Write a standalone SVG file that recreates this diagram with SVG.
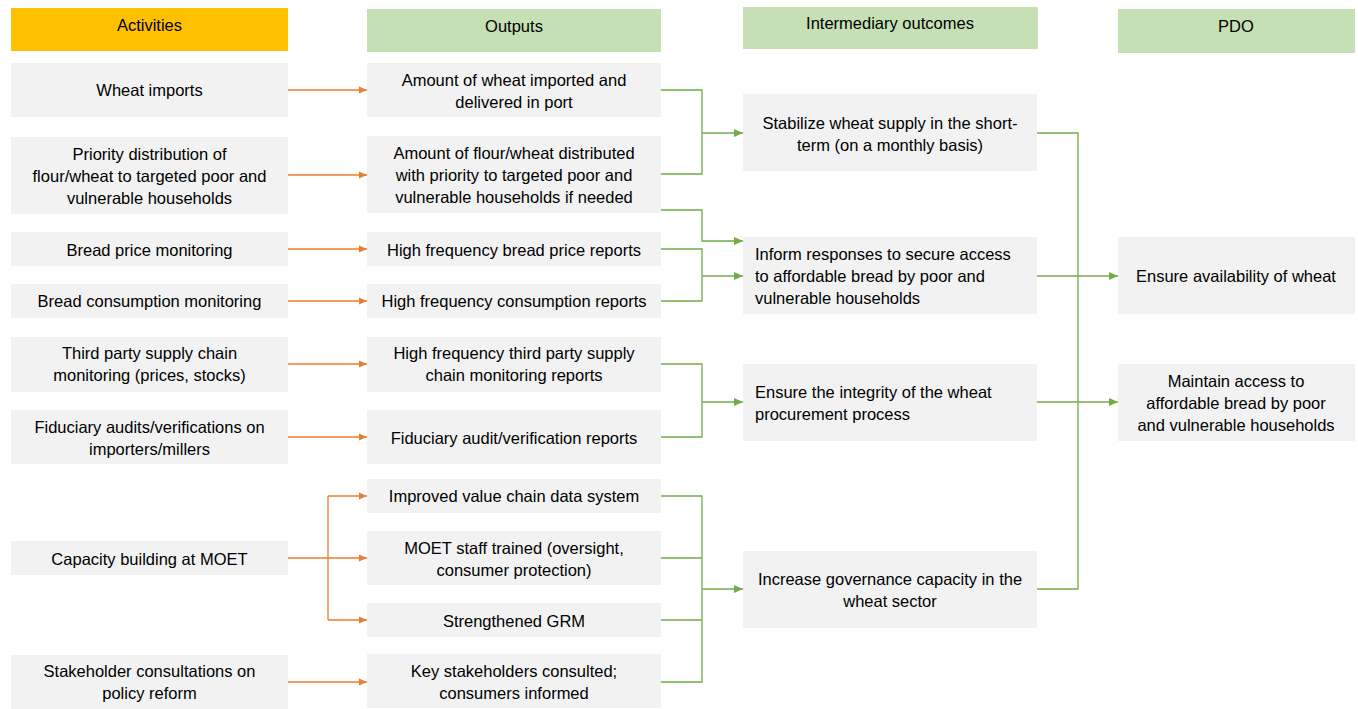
<svg xmlns="http://www.w3.org/2000/svg" width="1358" height="709" viewBox="0 0 1358 709">
<style>
.box{fill:#F2F2F2}
.hdrY{fill:#FFC000}
.hdrG{fill:#C5E0B4}
text{font-family:"Liberation Sans",Arial,sans-serif;font-size:16.5px;fill:#000}
.c{text-anchor:middle}
.or{fill:none;stroke:#ED7D31;stroke-width:1.3}
.gr{fill:none;stroke:#70AD47;stroke-width:1.3}
.ora{marker-end:url(#ao)}
.gra{marker-end:url(#ag)}
</style>
<defs>
<marker id="ao" markerUnits="userSpaceOnUse" markerWidth="8" markerHeight="8" refX="8" refY="4" orient="auto"><path d="M0,0.5 L8,4 L0,7.5 z" fill="#ED7D31"/></marker>
<marker id="ag" markerUnits="userSpaceOnUse" markerWidth="9" markerHeight="9" refX="9" refY="4.5" orient="auto"><path d="M0,0.5 L9,4.5 L0,8.5 z" fill="#70AD47"/></marker>
</defs>
<rect width="1358" height="709" fill="#fff"/>

<g id="connectors">
<path class="or ora" d="M288,90 H367"/>
<path class="or ora" d="M288,175 H367"/>
<path class="or ora" d="M288,249 H367"/>
<path class="or ora" d="M288,301 H367"/>
<path class="or ora" d="M288,364 H367"/>
<path class="or ora" d="M288,437 H367"/>
<path class="or" d="M288,558 H328 M328,496 V620"/>
<path class="or ora" d="M328,496 H367"/>
<path class="or ora" d="M328,558 H367"/>
<path class="or ora" d="M328,620 H367"/>
<path class="or ora" d="M288,682 H367"/>

<path class="gr" d="M661,90 H702 V174 H661"/>
<path class="gr gra" d="M702,133 H743"/>
<path class="gr gra" d="M661,210 H702 V241 H743"/>
<path class="gr" d="M661,249 H702 V301 H661"/>
<path class="gr gra" d="M702,276 H743"/>
<path class="gr" d="M661,364 H702 V437 H661"/>
<path class="gr gra" d="M702,402 H743"/>
<path class="gr" d="M661,496 H702 V682 H661 M661,558 H702 M661,620 H702"/>
<path class="gr gra" d="M702,589 H743"/>

<path class="gr" d="M1037,133 H1078 V589 H1037"/>
<path class="gr gra" d="M1037,276 H1118"/>
<path class="gr gra" d="M1037,402 H1118"/>
</g>

<g id="hdr-activities"><rect class="hdrY" x="11" y="8" width="277" height="43"/><text class="c" x="149.5" y="31">Activities</text></g>
<g id="hdr-outputs"><rect class="hdrG" x="367" y="9" width="294" height="43"/><text class="c" x="514" y="32">Outputs</text></g>
<g id="hdr-outcomes"><rect class="hdrG" x="743" y="7" width="295" height="42"/><text class="c" x="890" y="29">Intermediary outcomes</text></g>
<g id="hdr-pdo"><rect class="hdrG" x="1118" y="9" width="237" height="44"/><text class="c" x="1236" y="32">PDO</text></g>

<g id="a1"><rect class="box" x="11" y="63" width="277" height="54"/><text class="c" x="149.5" y="96">Wheat imports</text></g>
<g id="a2"><rect class="box" x="11" y="137" width="277" height="77"/><text class="c" x="149.5" y="160">Priority distribution of</text><text class="c" x="149.5" y="182">flour/wheat to targeted poor and</text><text class="c" x="149.5" y="204">vulnerable households</text></g>
<g id="a3"><rect class="box" x="11" y="232" width="277" height="34"/><text class="c" x="149.5" y="256">Bread price monitoring</text></g>
<g id="a4"><rect class="box" x="11" y="284" width="277" height="34"/><text class="c" x="149.5" y="307">Bread consumption monitoring</text></g>
<g id="a5"><rect class="box" x="11" y="337" width="277" height="55"/><text class="c" x="149.5" y="359">Third party supply chain</text><text class="c" x="149.5" y="381">monitoring (prices, stocks)</text></g>
<g id="a6"><rect class="box" x="11" y="410" width="277" height="54"/><text class="c" x="149.5" y="433">Fiduciary audits/verifications on</text><text class="c" x="149.5" y="455">importers/millers</text></g>
<g id="a7"><rect class="box" x="11" y="541" width="277" height="34"/><text class="c" x="149.5" y="565">Capacity building at MOET</text></g>
<g id="a8"><rect class="box" x="11" y="655" width="277" height="54"/><text class="c" x="149.5" y="677">Stakeholder consultations on</text><text class="c" x="149.5" y="699">policy reform</text></g>

<g id="o1"><rect class="box" x="367" y="63" width="294" height="54"/><text class="c" x="514" y="86">Amount of wheat imported and</text><text class="c" x="514" y="108">delivered in port</text></g>
<g id="o2"><rect class="box" x="367" y="136" width="294" height="77"/><text class="c" x="514" y="159">Amount of flour/wheat distributed</text><text class="c" x="514" y="181">with priority to targeted poor and</text><text class="c" x="514" y="203">vulnerable households if needed</text></g>
<g id="o3"><rect class="box" x="367" y="232" width="294" height="34"/><text class="c" x="514" y="256">High frequency bread price reports</text></g>
<g id="o4"><rect class="box" x="367" y="284" width="294" height="34"/><text class="c" x="514" y="307">High frequency consumption reports</text></g>
<g id="o5"><rect class="box" x="367" y="337" width="294" height="55"/><text class="c" x="514" y="359">High frequency third party supply</text><text class="c" x="514" y="381">chain monitoring reports</text></g>
<g id="o6"><rect class="box" x="367" y="410" width="294" height="54"/><text class="c" x="514" y="444">Fiduciary audit/verification reports</text></g>
<g id="o7"><rect class="box" x="367" y="479" width="294" height="34"/><text class="c" x="514" y="502">Improved value chain data system</text></g>
<g id="o8"><rect class="box" x="367" y="531" width="294" height="54"/><text class="c" x="514" y="554">MOET staff trained (oversight,</text><text class="c" x="514" y="576">consumer protection)</text></g>
<g id="o9"><rect class="box" x="367" y="603" width="294" height="34"/><text class="c" x="514" y="627">Strengthened GRM</text></g>
<g id="o10"><rect class="box" x="367" y="654" width="294" height="54"/><text class="c" x="514" y="677">Key stakeholders consulted;</text><text class="c" x="514" y="699">consumers informed</text></g>

<g id="i1"><rect class="box" x="743" y="94" width="294" height="77"/><text class="c" x="890" y="129">Stabilize wheat supply in the short-</text><text class="c" x="890" y="151">term (on a monthly basis)</text></g>
<g id="i2"><rect class="box" x="743" y="237" width="294" height="77"/><text x="755" y="260">Inform responses to secure access</text><text x="755" y="282">to affordable bread by poor and</text><text x="755" y="304">vulnerable households</text></g>
<g id="i3"><rect class="box" x="743" y="364" width="294" height="77"/><text x="755" y="398">Ensure the integrity of the wheat</text><text x="755" y="420">procurement process</text></g>
<g id="i4"><rect class="box" x="743" y="551" width="294" height="77"/><text class="c" x="890" y="585">Increase governance capacity in the</text><text class="c" x="890" y="607">wheat sector</text></g>

<g id="p1"><rect class="box" x="1118" y="237" width="237" height="77"/><text class="c" x="1236" y="282">Ensure availability of wheat</text></g>
<g id="p2"><rect class="box" x="1118" y="364" width="237" height="77"/><text class="c" x="1236" y="387">Maintain access to</text><text class="c" x="1236" y="409">affordable bread by poor</text><text class="c" x="1236" y="431">and vulnerable households</text></g>
</svg>
